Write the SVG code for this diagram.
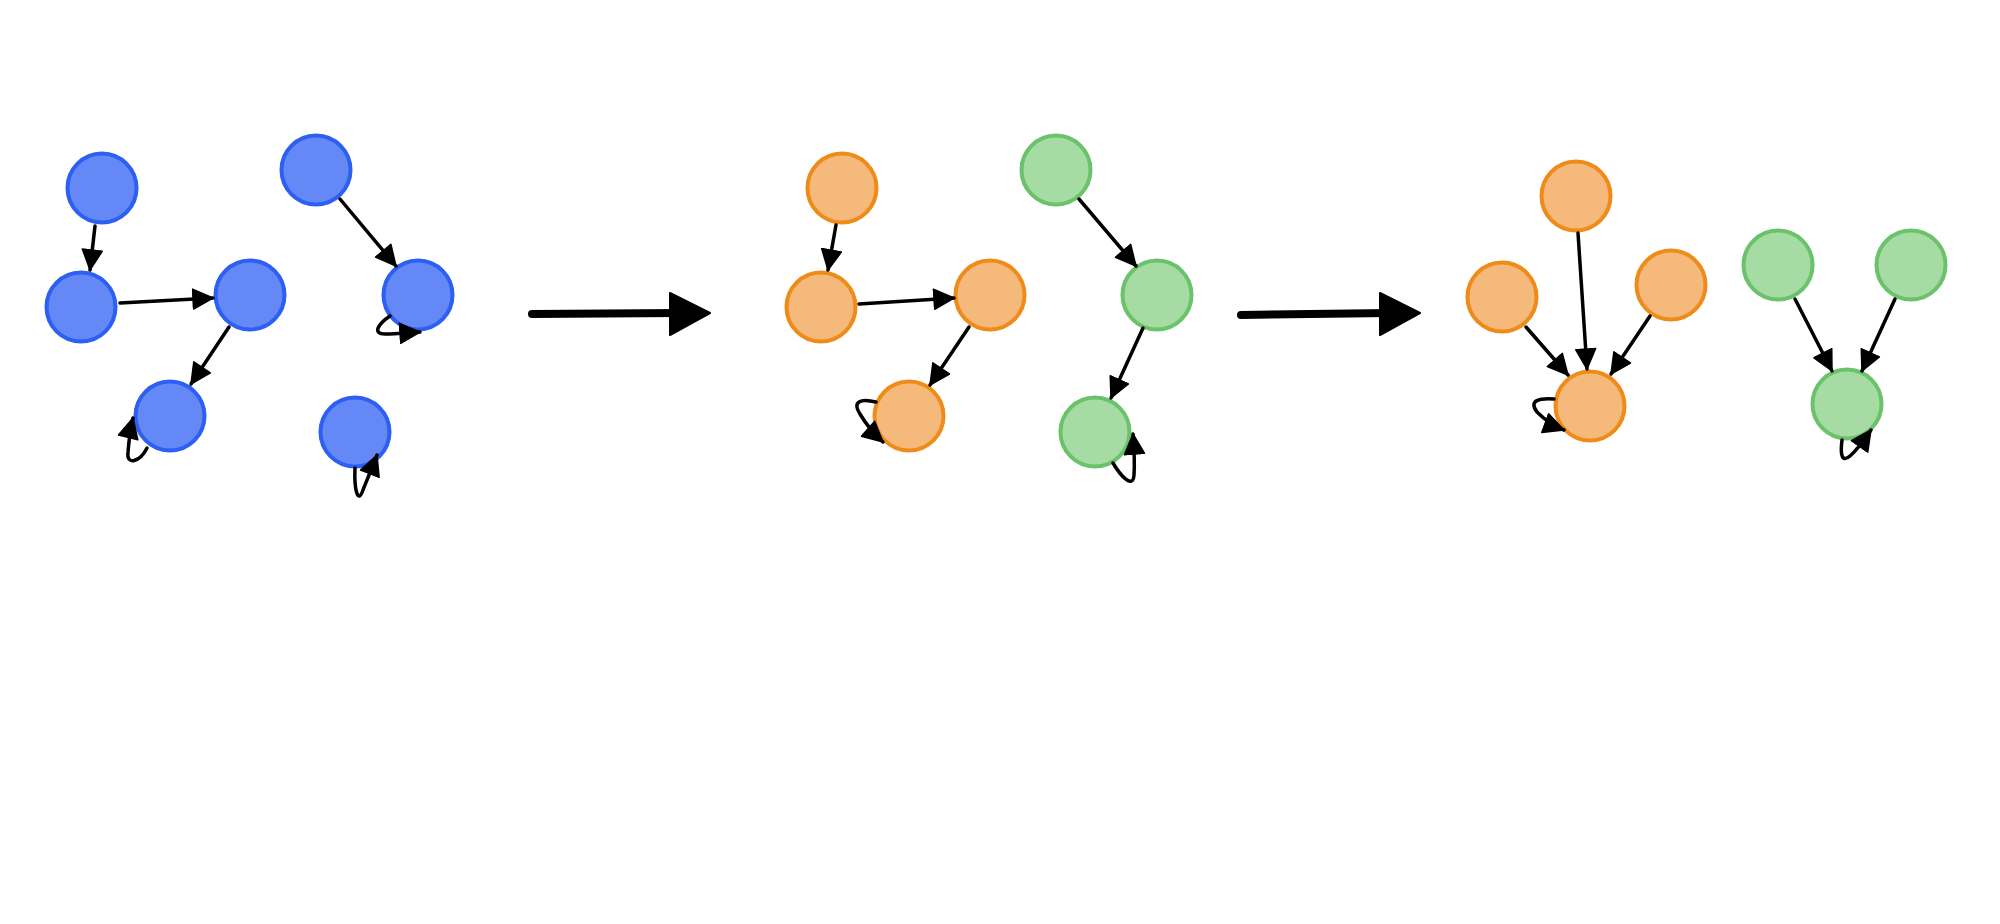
<svg xmlns="http://www.w3.org/2000/svg" width="2000" height="924" viewBox="0 0 2000 924">
<style>
.blue{fill:#6489f7;stroke:#2c5ff2;stroke-width:4}
.orange{fill:#f5b97b;stroke:#ef8b19;stroke-width:4}
.green{fill:#a6dca4;stroke:#6ac26a;stroke-width:4}
.edge{fill:none;stroke:#000;stroke-width:3.5;stroke-linecap:round}
.big{fill:none;stroke:#000;stroke-width:8;stroke-linecap:round}
</style>
<defs>
<marker id="ah" markerUnits="userSpaceOnUse" markerWidth="24" markerHeight="24" refX="21" refY="11" orient="auto" viewBox="0 0 24 24">
<path d="M1,1 L21,11 L1,21 z" fill="#000" stroke="#000" stroke-width="1.5" stroke-linejoin="round"/>
</marker>
</defs>
<rect width="2000" height="924" fill="#fff"/>
<g id="b1"><circle class="blue" cx="102" cy="188" r="34.5"/></g>
<g id="b2"><circle class="blue" cx="81" cy="307" r="34.5"/></g>
<g id="b3"><circle class="blue" cx="250" cy="295" r="34.5"/></g>
<g id="b4"><circle class="blue" cx="170" cy="416" r="34.5"/></g>
<g id="b5"><circle class="blue" cx="316" cy="170" r="34.5"/></g>
<g id="b6"><circle class="blue" cx="418" cy="295" r="34.5"/></g>
<g id="b7"><circle class="blue" cx="355" cy="432" r="34.5"/></g>
<g id="o1"><circle class="orange" cx="842" cy="188" r="34.5"/></g>
<g id="o2"><circle class="orange" cx="821" cy="307" r="34.5"/></g>
<g id="o3"><circle class="orange" cx="990" cy="295" r="34.5"/></g>
<g id="o4"><circle class="orange" cx="909" cy="416" r="34.5"/></g>
<g id="g1"><circle class="green" cx="1056" cy="170" r="34.5"/></g>
<g id="g2"><circle class="green" cx="1157" cy="295" r="34.5"/></g>
<g id="g3"><circle class="green" cx="1095" cy="432" r="34.5"/></g>
<g id="p1"><circle class="orange" cx="1576" cy="196" r="34.5"/></g>
<g id="p2"><circle class="orange" cx="1502" cy="297" r="34.5"/></g>
<g id="p3"><circle class="orange" cx="1671" cy="285" r="34.5"/></g>
<g id="p4"><circle class="orange" cx="1590" cy="406" r="34.5"/></g>
<g id="q1"><circle class="green" cx="1778" cy="265" r="34.5"/></g>
<g id="q2"><circle class="green" cx="1911" cy="265" r="34.5"/></g>
<g id="q3"><circle class="green" cx="1847" cy="404" r="34.5"/></g>
<g id="connectors">
<path class="edge" marker-end="url(#ah)" d="M95,226 L90,270"/>
<path class="edge" marker-end="url(#ah)" d="M120,303 L213,298"/>
<path class="edge" marker-end="url(#ah)" d="M229,327 L191,384"/>
<path class="edge" marker-end="url(#ah)" d="M147,448 C140,462 126,466 128,452 C129,440 130,430 133,418"/>
<path class="edge" marker-end="url(#ah)" d="M340,199 L396,266"/>
<path class="edge" marker-end="url(#ah)" d="M390,316 C378,324 372,334 385,334 C395,334 405,333 420,332"/>
<path class="edge" marker-end="url(#ah)" d="M355,468 C354,490 358,505 363,490 C367,480 372,468 377,455"/>
<path class="big" d="M532,314 L680,313"/>
<path d="M670,293 L710,313 L670,335 z" fill="#000" stroke="#000" stroke-width="2" stroke-linejoin="round"/>
<path class="edge" marker-end="url(#ah)" d="M836,225 L828,270"/>
<path class="edge" marker-end="url(#ah)" d="M859,304 L954,298"/>
<path class="edge" marker-end="url(#ah)" d="M969,327 L930,385"/>
<path class="edge" marker-end="url(#ah)" d="M876,402 C860,398 852,402 860,414 C866,424 874,434 883,442"/>
<path class="edge" marker-end="url(#ah)" d="M1079,199 L1136,266"/>
<path class="edge" marker-end="url(#ah)" d="M1143,328 L1111,398"/>
<path class="edge" marker-end="url(#ah)" d="M1113,463 C1120,475 1133,490 1134,475 C1135,460 1134,448 1133,434"/>
<path class="big" d="M1241,315 L1390,313"/>
<path d="M1380,293 L1420,313 L1380,335 z" fill="#000" stroke="#000" stroke-width="2" stroke-linejoin="round"/>
<path class="edge" marker-end="url(#ah)" d="M1578,233 L1587,369"/>
<path class="edge" marker-end="url(#ah)" d="M1526,327 L1568,375"/>
<path class="edge" marker-end="url(#ah)" d="M1650,316 L1611,374"/>
<path class="edge" marker-end="url(#ah)" d="M1554,399 C1540,398 1528,400 1537,412 C1545,420 1553,426 1564,430"/>
<path class="edge" marker-end="url(#ah)" d="M1795,299 L1832,371"/>
<path class="edge" marker-end="url(#ah)" d="M1895,299 L1862,371"/>
<path class="edge" marker-end="url(#ah)" d="M1842,440 C1840,455 1842,463 1850,456 C1858,449 1864,440 1871,430"/>
</g>
</svg>
